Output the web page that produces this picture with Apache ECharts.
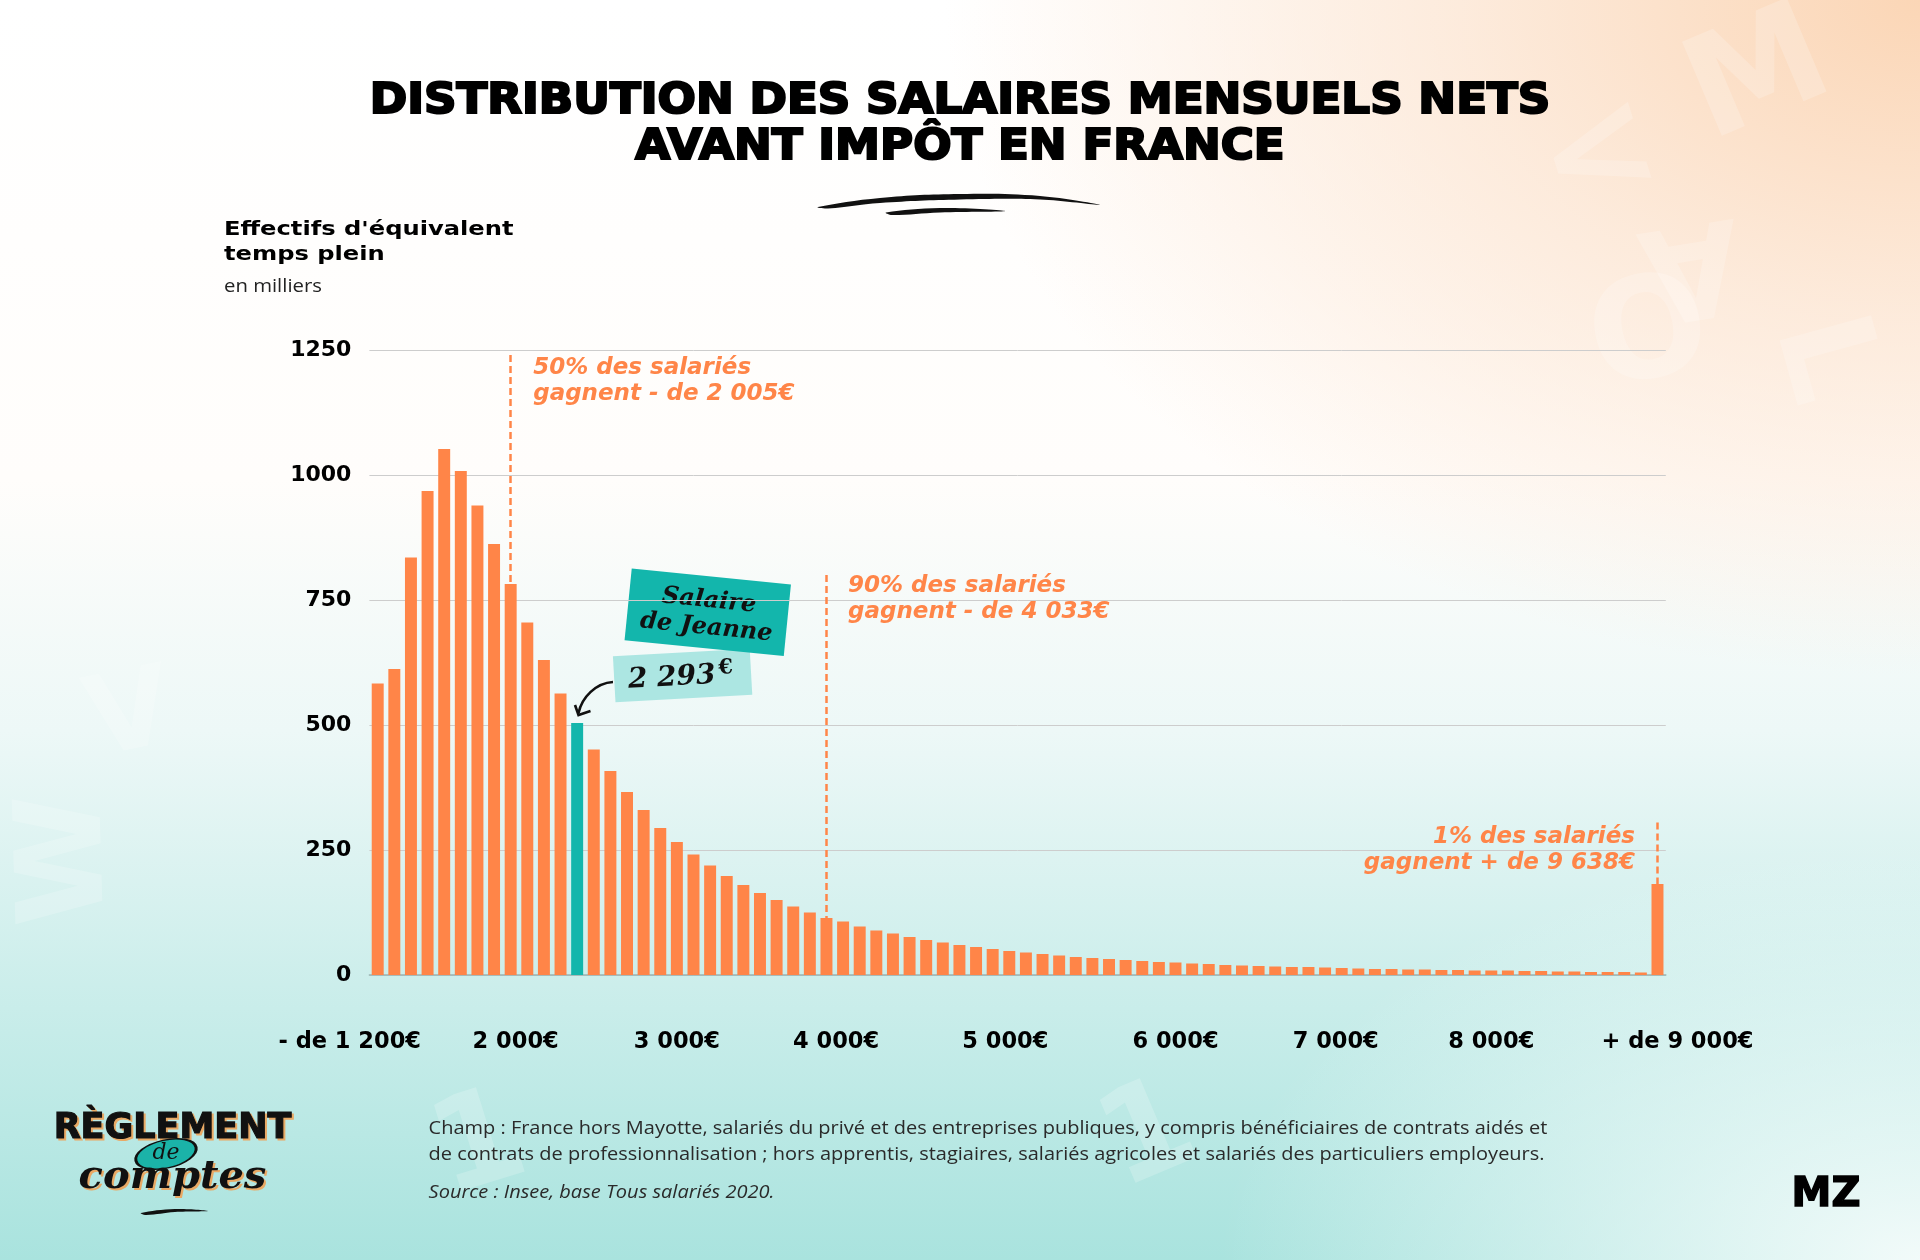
<!DOCTYPE html>
<html>
<head>
<meta charset="utf-8">
<script src="https://cdn.jsdelivr.net/npm/echarts@6/dist/echarts.min.js"></script>
<style>
  html, body { margin: 0; padding: 0; }
  #bg {
    position: absolute; left: 0; top: 0; width: 1920px; height: 1260px;
    background:
      radial-gradient(ellipse 1300px 900px at 100% 0%, rgba(251,214,182,1) 0%, rgba(252,228,208,0.75) 35%, rgba(255,255,255,0) 75%),
      radial-gradient(ellipse 700px 420px at 100% 100%, rgba(246,252,251,0.95) 0%, rgba(246,252,251,0) 100%),
      linear-gradient(180deg, #FFFFFF 0%, #FFFDFB 38%, #EDF8F7 58%, #C9EDEA 80%, #A9E3DE 100%);
  }
  #chart { position: absolute; left: 0; top: 0; width: 1920px; height: 1260px; }
</style>
</head>
<body>
<div id="bg"></div>
<div id="chart"></div>
<script>
// ---------- DATA ----------
const categories = [
  '- de 1 200',
  '1 200','1 300','1 400','1 500','1 600','1 700','1 800','1 900',
  '2 000','2 100','2 200','2 300','2 400','2 500','2 600','2 700','2 800','2 900',
  '3 000','3 100','3 200','3 300','3 400','3 500','3 600','3 700','3 800','3 900',
  '4 000','4 100','4 200','4 300','4 400','4 500','4 600','4 700','4 800','4 900',
  '5 000','5 100','5 200','5 300','5 400','5 500','5 600','5 700','5 800','5 900',
  '6 000','6 100','6 200','6 300','6 400','6 500','6 600','6 700','6 800','6 900',
  '7 000','7 100','7 200','7 300','7 400','7 500','7 600','7 700','7 800','7 900',
  '8 000','8 100','8 200','8 300','8 400','8 500','8 600','8 700',
  '+ de 9 000'
];

// Effectifs d'équivalent temps plein, en milliers
const employees = [
  583, 612, 835, 968, 1052, 1008, 939, 862, 782, 705,
  630, 563, 504, 451, 408, 366, 330, 294, 266, 241,
  219, 198, 180, 164, 150, 137, 125, 114, 107, 97,
  89, 83, 76, 70, 65, 60, 56, 52, 48, 45,
  42, 39, 36, 34, 32, 30, 28, 26, 25, 23,
  22, 20, 19, 18, 17, 16, 16, 15, 14, 13,
  12, 12, 11, 11, 10, 10, 9, 9, 9, 8,
  8, 7, 7, 6, 6, 6, 5, 182
];

const jeanneIndex = 12;
const jeanneSalary = '2 293';
const medianIndex = 8;
const d9Index = 27;
const top1Index = 77;

// x tick labels (inner ticks on the main axis, the two extremes on a helper axis)
const xTickIndex  = [8, 18, 28, 38, 48, 58, 67];
const xTickLabels = ['2 000€', '3 000€', '4 000€', '5 000€', '6 000€', '7 000€', '8 000€'];
const xEndIndex   = [0, 77];
const xEndLabels  = ['- de 1 200€', '+ de 9 000€'];

const annotMedian = ['50% des salariés', 'gagnent - de 2 005€'];
const annotD9     = ['90% des salariés', 'gagnent - de 4 033€'];
const annotTop1   = ['1% des salariés', 'gagnent + de 9 638€'];

// ---------- STYLE ----------
const ORANGE = '#FF8548';
const TEAL = '#13B6AC';
const LIGHT_TEAL = '#ACE6E2';
const xLabelShift = [5, 0, -7, -4, 0, -6, 0];
const xEndShift = [-28, 20];
const axisFont = 'DejaVu Sans';

function shiftRich(prefix, shifts) {
  const r = {};
  shifts.forEach((s, k) => {
    r[prefix + k] = {
      fontFamily: axisFont, fontWeight: 'bold', fontSize: 22.5, color: '#000', lineHeight: 26,
      padding: s >= 0 ? [0, 0, 0, 2 * s] : [0, -2 * s, 0, 0]
    };
  });
  return r;
}

const annotLabel = {
  show: true,
  color: ORANGE,
  fontFamily: 'DejaVu Sans',
  fontStyle: 'italic',
  fontWeight: 'bold',
  fontSize: 23,
  lineHeight: 26
};

const chart = echarts.init(document.getElementById('chart'), null, { renderer: 'canvas' });

function txt(x, y, text, st, extra) {
  return Object.assign({
    type: 'text', x: x, y: y, silent: true,
    style: Object.assign({ text: text, x: 0, y: 0, align: 'left', verticalAlign: 'middle', textAlign: 'left', textVerticalAlign: 'middle', fill: '#000' }, st)
  }, extra || {});
}

const watermark = (x, y, ch, rot, size) => txt(x, y, ch, {
  fontFamily: 'DejaVu Sans', fontWeight: 'bold', fontSize: size, fill: 'rgba(255,255,255,0.2)',
  align: 'center', textAlign: 'center'
}, { rotation: rot, z: -10 });

const option = {
  animation: false,
  grid: { left: 369.4, right: 254.2, top: 350, bottom: 285, containLabel: false },
  xAxis: [{
    type: 'category',
    data: categories,
    boundaryGap: true,
    axisLine: { show: true, lineStyle: { color: '#9AB5B2', width: 1.5 } },
    axisTick: { show: false },
    axisLabel: {
      interval: (i) => xTickIndex.indexOf(i) >= 0,
      hideOverlap: false,
      margin: 54,
      formatter: (v, i) => {
        const k = xTickIndex.indexOf(i);
        return k < 0 ? '' : '{s' + k + '|' + xTickLabels[k] + '}';
      },
      rich: shiftRich('s', xLabelShift)
    }
  }, {
    type: 'category',
    data: categories,
    boundaryGap: true,
    position: 'bottom',
    axisLine: { show: false },
    axisTick: { show: false },
    splitLine: { show: false },
    axisLabel: {
      interval: (i) => xEndIndex.indexOf(i) >= 0,
      showMinLabel: true,
      showMaxLabel: true,
      margin: 54,
      formatter: (v, i) => {
        const k = xEndIndex.indexOf(i);
        return k < 0 ? '' : '{e' + k + '|' + xEndLabels[k] + '}';
      },
      rich: shiftRich('e', xEndShift)
    }
  }],
  yAxis: {
    type: 'value',
    min: 0, max: 1250, interval: 250,
    axisLine: { show: false },
    axisTick: { show: false },
    axisLabel: { fontFamily: axisFont, fontWeight: 'bold', fontSize: 22, color: '#000', margin: 18, formatter: (v) => String(v) },
    splitLine: { lineStyle: { color: '#CDCDCD', width: 1 } }
  },
  series: [{
    type: 'bar',
    xAxisIndex: 0,
    silent: true,
    barCategoryGap: '28%',
    itemStyle: { color: ORANGE },
    data: employees.map((v, i) => i === jeanneIndex ? { value: v, itemStyle: { color: TEAL } } : v),
    markLine: {
      silent: true,
      symbol: ['none', 'none'],
      label: { show: false },
      lineStyle: { color: ORANGE, type: [7, 4], width: 2.5 },
      data: [
        [{ coord: [medianIndex, 1240] }, { coord: [medianIndex, employees[medianIndex]] }],
        [{ coord: [d9Index, 800] }, { coord: [d9Index, employees[d9Index]] }],
        [{ coord: [top1Index, 305] }, { coord: [top1Index, employees[top1Index]] }]
      ]
    },
    markPoint: {
      silent: true,
      symbol: 'circle',
      symbolSize: 1,
      itemStyle: { color: 'rgba(0,0,0,0)' },
      data: [
        { coord: [medianIndex, 1187], label: Object.assign({}, annotLabel, { position: 'right', distance: 22, formatter: annotMedian.join('\n') }) },
        { coord: [d9Index, 751], label: Object.assign({}, annotLabel, { position: 'right', distance: 21, formatter: annotD9.join('\n') }) },
        { coord: [top1Index, 249], label: Object.assign({}, annotLabel, { position: 'left', distance: 22, formatter: annotTop1.join('\n') }) }
      ]
    }
  }],
  graphic: { elements: [
    // background watermark letters
    watermark(1760, 80, 'M', 0.4, 140),
    watermark(1600, 160, '<', 0.3, 140),
    watermark(1690, 260, 'A', 3.3, 130),
    watermark(1650, 340, 'O', 0.2, 140),
    watermark(1820, 360, 'L', -1.3, 130),
    watermark(70, 860, 'W', 1.6, 120),
    watermark(130, 720, 'V', 0.2, 110),
    watermark(480, 1150, '1', 0.3, 130),
    watermark(1150, 1140, '1', 0.4, 130),

    // Title
    txt(960, 101.6, 'DISTRIBUTION DES SALAIRES MENSUELS NETS', {
      fontFamily: 'DejaVu Sans', fontWeight: 'bold', fontSize: 43, fill: '#000', stroke: '#000', lineWidth: 2.2,
      align: 'center', textAlign: 'center'
    }, { scaleX: 1.05 }),
    txt(960, 148, 'AVANT IMPÔT EN FRANCE', {
      fontFamily: 'DejaVu Sans', fontWeight: 'bold', fontSize: 43, fill: '#000', stroke: '#000', lineWidth: 2.2,
      align: 'center', textAlign: 'center'
    }, { scaleX: 1.05 }),
    // brush strokes under title
    { type: 'polygon', silent: true, shape: { smooth: 0.4, points: [[818, 207], [880, 198], [960, 194], [1040, 196], [1100, 205], [1040, 199.5], [960, 199.5], [880, 203], [828, 208.5]] }, style: { fill: '#111' } },
    { type: 'polygon', silent: true, shape: { smooth: 0.4, points: [[886, 212.5], [940, 208], [1005, 211], [940, 212.5], [892, 215]] }, style: { fill: '#111' } },

    // Y axis title
    txt(224, 230, "Effectifs d'équivalent", { fontFamily: 'DejaVu Sans', fontWeight: 'bold', fontSize: 19.5, fill: '#000' }, { scaleX: 1.24 }),
    txt(224, 254.7, 'temps plein', { fontFamily: 'DejaVu Sans', fontWeight: 'bold', fontSize: 19.5, fill: '#000' }, { scaleX: 1.24 }),
    txt(224, 286.5, 'en milliers', { fontFamily: 'Open Sans', fontSize: 19, fill: '#222' }, { scaleX: 1.07 }),

    // Jeanne annotation
    { type: 'group', x: 682.6, y: 675.5, rotation: 0.056, silent: true, children: [
      { type: 'rect', shape: { x: -68.5, y: -23, width: 137, height: 46 }, style: { fill: LIGHT_TEAL } },
      { type: 'text', style: { text: '{a|' + jeanneSalary + '} {b|€}', x: -2, y: 2, align: 'center', verticalAlign: 'middle', textAlign: 'center', textVerticalAlign: 'middle',
        rich: {
          a: { fontFamily: 'DejaVu Serif', fontWeight: 'bold', fontStyle: 'italic', fontSize: 28, fill: '#111', color: '#111' },
          b: { fontFamily: 'DejaVu Serif', fontWeight: 'bold', fontSize: 21, fill: '#111', color: '#111', padding: [0, 0, 14, 0] }
        } } }
    ] },
    { type: 'group', x: 707.75, y: 612.3, rotation: -0.1, silent: true, children: [
      { type: 'rect', shape: { x: -80, y: -36, width: 160, height: 72 }, style: { fill: TEAL } },
      { type: 'text', style: { text: 'Salaire\nde Jeanne', x: 0, y: 2, align: 'center', verticalAlign: 'middle', textAlign: 'center', textVerticalAlign: 'middle',
        fontFamily: 'DejaVu Serif', fontWeight: 'bold', fontStyle: 'italic', fontSize: 24, lineHeight: 27, fill: '#111' } }
    ] },
    { type: 'bezierCurve', silent: true, shape: { x1: 613, y1: 682, cpx1: 596, cpy1: 683, cpx2: 582, cpy2: 697, x2: 578.5, y2: 713 }, style: { stroke: '#111', lineWidth: 2.6, fill: 'none' } },
    { type: 'polyline', silent: true, shape: { points: [[575, 705], [578.5, 715], [590.5, 711]] }, style: { stroke: '#111', lineWidth: 2.6, fill: 'none' } },

    // Footer
    txt(428.6, 1129, 'Champ : France hors Mayotte, salariés du privé et des entreprises publiques, y compris bénéficiaires de contrats aidés et', { fontFamily: 'Open Sans', fontSize: 18, fill: '#2A2A2A' }, { scaleX: 1.11 }),
    txt(428.6, 1154.7, 'de contrats de professionnalisation ; hors apprentis, stagiaires, salariés agricoles et salariés des particuliers employeurs.', { fontFamily: 'Open Sans', fontSize: 18, fill: '#2A2A2A' }, { scaleX: 1.11 }),
    txt(428.6, 1192.7, 'Source : Insee, base Tous salariés 2020.', { fontFamily: 'Open Sans', fontStyle: 'italic', fontSize: 18, fill: '#2A2A2A' }, { scaleX: 1.11 }),

    // Logo "Règlement de comptes"
    txt(174.5, 1131, 'RÈGLEMENT', { fontFamily: 'DejaVu Sans', fontWeight: 'bold', fontSize: 35, fill: '#E9A965', stroke: '#E9A965', lineWidth: 1.2, align: 'center', textAlign: 'center' }),
    txt(172.5, 1129, 'RÈGLEMENT', { fontFamily: 'DejaVu Sans', fontWeight: 'bold', fontSize: 35, fill: '#111', stroke: '#111', lineWidth: 1.2, align: 'center', textAlign: 'center' }),
    { type: 'group', x: 166, y: 1154, rotation: 0.22, scaleX: 2.2, silent: true, children: [
      { type: 'circle', shape: { cx: 0, cy: 0, r: 14 }, style: { fill: '#1BB3A8', stroke: '#111', lineWidth: 1.4 } }
    ] },
    txt(166, 1153, 'de', { fontFamily: 'DejaVu Serif', fontStyle: 'italic', fontSize: 22, fill: '#111', align: 'center', textAlign: 'center' }),
    txt(174.5, 1180, 'comptes', { fontFamily: 'DejaVu Serif', fontWeight: 'bold', fontStyle: 'italic', fontSize: 40, fill: '#E9A965', align: 'center', textAlign: 'center' }),
    txt(172.5, 1178, 'comptes', { fontFamily: 'DejaVu Serif', fontWeight: 'bold', fontStyle: 'italic', fontSize: 40, fill: '#111', align: 'center', textAlign: 'center' }),
    { type: 'polygon', silent: true, shape: { smooth: 0.4, points: [[141, 1213], [175, 1209], [208, 1211], [175, 1212], [146, 1215]] }, style: { fill: '#111' } },

    // Logo bottom right
    txt(1826, 1196, 'MZ', { fontFamily: 'DejaVu Sans', fontWeight: 'bold', fontSize: 40, fill: '#000', stroke: '#000', lineWidth: 1.5, align: 'center', textAlign: 'center' })
  ] }
};

chart.setOption(option);
</script>
</body>
</html>
